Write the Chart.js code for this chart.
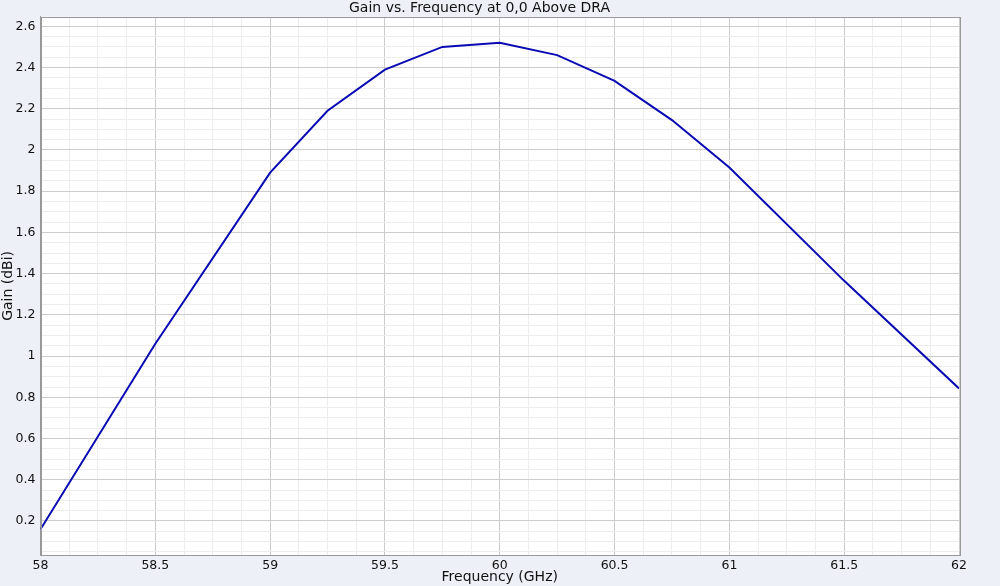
<!DOCTYPE html>
<html>
<head>
<meta charset="utf-8">
<title>Gain vs. Frequency</title>
<script src="https://cdn.jsdelivr.net/npm/chart.js@4"></script>
<style>
  html, body { margin: 0; padding: 0; background: #eef0f8; }
  #wrap { width: 1000px; height: 586px; }
</style>
</head>
<body>
<div id="wrap"><canvas id="gain-chart" width="1000" height="586"></canvas></div>
<script>
var frequencies = [58, 58.5, 59, 59.25, 59.5, 59.75, 60, 60.25, 60.5, 60.75, 61, 61.5, 62];
var gains = [0.16, 1.06, 1.89, 2.19, 2.39, 2.50, 2.52, 2.46, 2.335, 2.145, 1.915, 1.365, 0.843];
var xTickValues = [58, 58.5, 59, 59.5, 60, 60.5, 61, 61.5, 62];
var yTickValues = [0.2, 0.4, 0.6, 0.8, 1, 1.2, 1.4, 1.6, 1.8, 2, 2.2, 2.4, 2.6];

var isMajor = function (v, list) {
    for (var i = 0; i < list.length; ++i) {
        if (Math.abs(list[i] - v) < 1e-6) return true;
    }
    return false;
};

var buildTicks = function (from, to, step) {
    var ticks = [];
    var n = Math.round((to - from) / step);
    for (var i = 0; i <= n; ++i) {
        ticks.push({ value: Math.round((from + i * step) * 1000) / 1000 });
    }
    return ticks;
};

// white plot area plus a grey frame round it
var plotFrame = {
    id: 'plotFrame',
    beforeDraw: function (chart) {
        var a = chart.chartArea;
        var ctx = chart.ctx;
        ctx.save();
        ctx.fillStyle = '#ffffff';
        ctx.fillRect(a.left, a.top, a.right - a.left, a.bottom - a.top);
        ctx.restore();
    },
    afterDraw: function (chart) {
        var a = chart.chartArea;
        var ctx = chart.ctx;
        ctx.save();
        ctx.strokeStyle = '#999999';
        ctx.lineWidth = 1;
        ctx.strokeRect(Math.round(a.left) + 0.5, Math.round(a.top) + 0.5,
            Math.round(a.right - a.left), Math.round(a.bottom - a.top));
        ctx.restore();
    }
};

var points = [];
for (var i = 0; i < frequencies.length; ++i) {
    points.push({ x: frequencies[i], y: gains[i] });
}

var tickFont = { family: 'DejaVu Sans', size: 12.5, weight: 'normal' };
var titleFont = { family: 'DejaVu Sans', size: 14, weight: 'normal' };

new Chart(document.getElementById('gain-chart'), {
    type: 'line',
    data: {
        datasets: [{
            data: points,
            borderColor: '#0a0ab4',
            borderWidth: 2,
            pointRadius: 0,
            tension: 0,
            fill: false
        }]
    },
    options: {
        responsive: false,
        animation: false,
        layout: { padding: { left: 0, right: 41, top: 0, bottom: 0 } },
        plugins: {
            legend: { display: false },
            tooltip: { enabled: false },
            title: {
                display: true,
                text: 'Gain vs. Frequency at 0,0 Above DRA',
                color: '#111',
                font: titleFont,
                padding: { top: 0, bottom: 0 }
            }
        },
        scales: {
            x: {
                type: 'linear',
                min: 58,
                max: 62,
                afterBuildTicks: function (scale) { scale.ticks = buildTicks(58, 62, 0.125); },
                afterFit: function (scale) { scale.height = 31; },
                border: { color: '#999999', width: 1 },
                grid: {
                    color: function (c) { return isMajor(c.tick.value, xTickValues) ? '#cccccc' : '#ededed'; },
                    drawTicks: false
                },
                ticks: {
                    autoSkip: false,
                    maxRotation: 0,
                    padding: 3,
                    color: '#111',
                    font: tickFont,
                    callback: function (v) { return isMajor(v, xTickValues) ? String(v) : ''; }
                },
                title: {
                    display: true,
                    text: 'Frequency (GHz)',
                    color: '#111',
                    font: titleFont,
                    padding: { top: 0, bottom: 0 }
                }
            },
            y: {
                type: 'linear',
                min: 0.035,
                max: 2.646,
                afterBuildTicks: function (scale) { scale.ticks = buildTicks(0.05, 2.6, 0.05); },
                afterFit: function (scale) { scale.width = 40.5; },
                border: { color: '#999999', width: 1 },
                grid: {
                    color: function (c) { return isMajor(c.tick.value, yTickValues) ? '#cccccc' : '#ededed'; },
                    drawTicks: false
                },
                ticks: {
                    autoSkip: false,
                    padding: 5,
                    color: '#111',
                    font: tickFont,
                    callback: function (v) { return isMajor(v, yTickValues) ? String(Math.round(v * 10) / 10) : ''; }
                },
                title: {
                    display: true,
                    text: 'Gain (dBi)',
                    color: '#111',
                    font: titleFont,
                    padding: { top: 0, bottom: 0 }
                }
            }
        }
    },
    plugins: [plotFrame]
});
</script>
</body>
</html>
